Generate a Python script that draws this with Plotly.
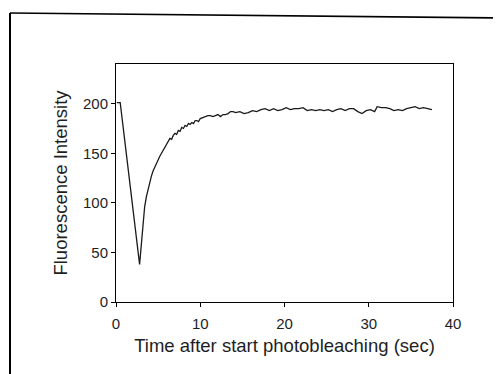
import plotly.graph_objects as go

time_sec = [0.1, 0.5, 2.8, 3.0, 3.2, 3.4, 3.6, 3.8, 4.0, 4.2, 4.4, 4.6, 4.8, 5.0, 5.2, 5.4, 5.6, 5.8,
            6.0, 6.2, 6.4, 6.6, 6.8, 7.0, 7.2, 7.4, 7.6, 7.8, 8.0, 8.2, 8.4, 8.6, 8.8, 9.0, 9.2, 9.4,
            9.6, 9.8, 10.0, 10.3, 10.6, 10.9, 11.2, 11.5, 11.8, 12.1, 12.4, 12.7, 13.0, 13.3, 13.6,
            13.9, 14.2, 14.7, 15.2, 15.7, 16.2, 16.7, 17.2, 17.7, 18.2, 18.7, 19.2, 19.7, 20.2, 20.7,
            21.2, 21.7, 22.2, 22.7, 23.2, 23.7, 24.2, 24.7, 25.2, 25.7, 26.2, 26.7, 27.2, 27.7, 28.2,
            28.7, 29.2, 29.7, 30.2, 30.7, 31.0, 31.5, 32.0, 32.5, 33.0, 33.5, 34.0, 34.5, 35.0, 35.5,
            36.0, 36.5, 37.0, 37.5]
intensity = [201, 201, 38, 60, 80, 96, 106, 114, 122, 127, 132, 136, 140, 144, 147, 150, 153, 156,
             160, 162, 165, 164, 168, 170, 169, 173, 172, 176, 175, 178, 177, 180, 179, 181, 180, 183,
             183, 182, 185, 186, 187, 188, 188, 187, 188, 189, 187, 189, 189, 190, 192,
             192, 191, 192, 190, 191, 193, 192, 194, 195, 193, 195, 193, 194, 196, 194,
             195, 195, 196, 193, 194, 193, 194, 193, 194, 192, 194, 195, 193, 195, 195,
             192, 190, 193, 194, 192, 197, 196, 196, 195, 193, 194, 193, 195, 196, 197,
             195, 196, 195, 194]

x_ticks = [0, 10, 20, 30, 40]
y_ticks = [0, 50, 100, 150, 200]

FONT = "Liberation Sans, Arial, sans-serif"
TXT = "#1e1e1e"

fig = go.Figure()
fig.add_trace(go.Scatter(x=time_sec, y=intensity, mode="lines",
                         line=dict(color="#1a1a1a", width=1.3), showlegend=False))

axis_common = dict(showline=True, linecolor="black", linewidth=1, mirror=True,
                   showgrid=False, zeroline=False, ticks="outside", ticklen=4,
                   tickcolor="black", tickfont=dict(family=FONT, size=15, color=TXT))

# page has an 8px body margin; figure sized/margined to compensate
fig.update_layout(
    width=493, height=366,
    margin=dict(l=108, r=48, t=56, b=72),
    paper_bgcolor="white", plot_bgcolor="white",
    font=dict(family=FONT, color=TXT),
    xaxis=dict(range=[0, 40], tickvals=x_ticks, ticklabelstandoff=4,
               title=dict(text="Time after start photobleaching (sec)",
                          font=dict(family=FONT, size=18.5, color=TXT), standoff=8),
               **axis_common),
    yaxis=dict(range=[0, 240], tickvals=y_ticks,
               title=dict(text="Fluorescence Intensity",
                          font=dict(family=FONT, size=18.5, color=TXT), standoff=10),
               **axis_common),
)

# outer frame lines (left and top)
px = lambda v: (v - 108) / 337
py = lambda v: (294 - v) / 238
fig.add_shape(type="line", xref="paper", yref="paper",
              x0=px(2), x1=px(2), y0=py(5), y1=py(380),
              line=dict(color="black", width=2))
fig.add_shape(type="line", xref="paper", yref="paper",
              x0=px(2), x1=px(500), y0=py(5), y1=py(10),
              line=dict(color="black", width=1.6))

fig.write_html("out.html")
